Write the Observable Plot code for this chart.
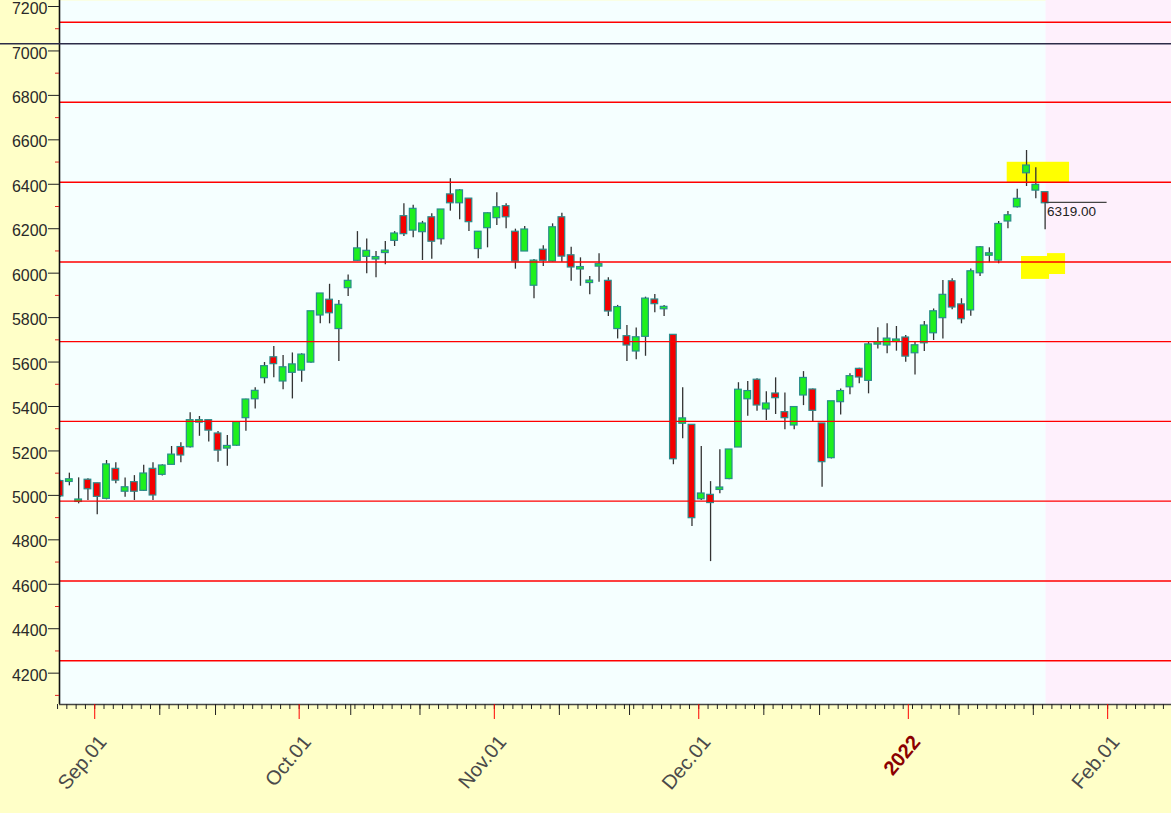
<!DOCTYPE html>
<html><head><meta charset="utf-8">
<script src="https://cdn.jsdelivr.net/npm/d3@7"></script>
<script src="https://cdn.jsdelivr.net/npm/@observablehq/plot@0.6"></script>
<style>
html,body{margin:0;padding:0;background:#FFFFC8;overflow:hidden;}
#chart svg{display:block}
</style></head><body><div id="chart"></div>
<script>
// ---- data (one candle per trading day, starting 2021-08-26) ----
const firstDay = "2021-08-26";
const opens = [5060,5065,4975,5066,5050,4989,5115,5021,5055,5025,5115,5097,5142,5213,5221,5332,5334,5274,5215,5228,5352,5437,5532,5617,5517,5556,5566,
5602,5814,5876,5753,5937,6060,6078,6066,6095,6150,6252,6196,6189,6247,6157,6350,6319,6331,6113,6207,
6252,6297,6182,6102,5948,6101,6057,6247,6076,6021,5960,6034,5961,5753,5712,5652,5718,5877,5842,5718,5327,5313,
4987,4998,5029,5078,5220,5437,5516,5391,5454,5370,5319,5454,5472,5319,5172,5424,5491,5565,5520,5683,5679,5695,5706,
5644,5689,5734,5802,5959,5855,5837,6004,6083,6061,6237,6301,6454,6376,6360];
const highs = [5068,5100,5079,5075,5055,5157,5147,5078,5089,5136,5147,5138,5220,5237,5372,5355,5337,5287,5269,5330,5433,5484,5598,5670,5629,5641,5637,
5826,5906,5950,5877,5992,6187,6154,6097,6142,6187,6312,6306,6233,6267,6287,6425,6375,6335,6187,6271,
6362,6312,6198,6210,6062,6123,6222,6270,6117,6069,5985,6087,5979,5855,5765,5753,5892,5904,5855,5720,5484,5316,
5220,5062,5205,5205,5507,5512,5525,5466,5529,5461,5400,5557,5479,5320,5421,5479,5547,5572,5692,5754,5772,5760,5719,
5692,5782,5839,5967,5975,5885,6019,6120,6114,6232,6277,6378,6552,6474,6362];
const lows = [4990,5043,4962,4977,4913,4980,5052,4992,4977,5018,4977,5087,5138,5147,5213,5266,5240,5149,5131,5221,5289,5389,5502,5529,5475,5434,5509,
5595,5772,5772,5602,5895,6053,5997,5979,6038,6120,6165,6159,6057,6063,6127,6279,6240,6187,6065,6114,
6214,6200,6018,6098,5885,6030,6050,6049,5964,5941,5903,5959,5805,5704,5602,5610,5626,5822,5805,5138,5255,4860,
4977,4702,5007,5070,5217,5356,5379,5337,5364,5295,5295,5404,5329,5037,5164,5362,5453,5502,5457,5659,5637,5649,5599,
5542,5647,5697,5704,5835,5772,5806,5985,6047,6042,6200,6293,6390,6335,6195];
const closes = [5000,5068,4977,5032,4998,5135,5071,5032,5021,5094,5004,5130,5179,5184,5334,5334,5296,5206,5218,5325,5427,5466,5577,5595,5572,5585,5629,
5824,5904,5824,5853,5961,6107,6096,6068,6097,6174,6180,6285,6219,6146,6282,6319,6368,6234,6182,6265,
6292,6256,6057,6192,6052,6060,6202,6079,6030,6023,5962,6036,5832,5843,5679,5707,5881,5865,5844,5167,5342,4902,
5004,4970,5031,5202,5471,5465,5409,5409,5442,5352,5393,5524,5385,5154,5419,5465,5532,5535,5675,5685,5701,5697,5629,
5671,5760,5824,5898,5850,5797,6004,6112,6085,6217,6256,6330,6480,6393,6319];

// horizontal level lines and marker line
const levels = [4256, 4615, 4974, 5333, 5692, 6050, 6409, 6769, 7129];
const markerLevel = 7030;

// axis ticks
const yMajor = [4200,4400,4600,4800,5000,5200,5400,5600,5800,6000,6200,6400,6600,6800,7000,7200];
const yMinor = [4100,4300,4500,4700,4900,5100,5300,5500,5700,5900,6100,6300,6500,6700,6900,7100];
const monthDates = ["2021-09-01","2021-10-01","2021-11-01","2021-12-01","2022-01-01","2022-02-01"];
const monthLabels = ["Sep.01","Oct.01","Nov.01","Dec.01","2022","Feb.01"];
const midDates = ["2021-09-10","2021-09-20","2021-10-10","2021-10-20","2021-11-10","2021-11-20","2021-12-10","2021-12-20","2022-01-10","2022-01-20"];

// highlighted zones (trading-day index units / price)
const zoneX1 = [101.92, 103.46, 106.26];
const zoneX2 = [108.63, 106.48, 108.2];
const zoneY1 = [6405, 5972, 5994];
const zoneY2 = [6499, 6075, 6088];

// ---- build ----
const parse = d3.utcParse("%Y-%m-%d");
const tradingDays = d3.utcDays(parse(firstDay), parse("2022-03-01")).filter(d => d.getUTCDay() % 6 !== 0);
function dayPos(s) {
  const t = parse(s);
  const k = tradingDays.findIndex(d => d >= t);
  return +tradingDays[k] === +t ? k - 0.27 : k - 0.72;
}
const candles = opens.map((o, i) => ({i, o, h: highs[i], l: lows[i], c: closes[i]}));
const last = candles[candles.length - 1];
const xDomain = [-0.06, 119.6];
const yDomain = [4059, 7227];
const zones = zoneX1.map((x1, k) => ({x1, x2: zoneX2[k], y1: zoneY1[k], y2: zoneY2[k]}));
const months = monthDates.map((d, k) => ({x: dayPos(d), label: monthLabels[k], year: !monthLabels[k].includes(".")}));
const mids = midDates.map(dayPos);
const daily = d3.range(0, 120).map(k => k - 0.27);

const GREEN = "#1EF01E", RED = "#F50000", EDGE = "#2A8C8C";

const plot = Plot.plot({
  width: 1171, height: 813,
  marginLeft: 59, marginRight: 0, marginTop: 0, marginBottom: 109,
  style: {background: "transparent", fontFamily: "'Liberation Sans', Arial, sans-serif", overflow: "visible"},
  x: {domain: xDomain, axis: null, label: null},
  y: {domain: yDomain, axis: null, label: null},
  marks: [
    Plot.frame({fill: "#F5FFFF", stroke: null}),
    Plot.rect([last], {x1: d => d.i + 0.1, x2: xDomain[1], y1: yDomain[0], y2: yDomain[1], fill: "#FEF0FC"}),
    Plot.rect(zones, {x1: "x1", x2: "x2", y1: "y1", y2: "y2", fill: "#FFFF00"}),
    Plot.ruleX(candles, {x: "i", y1: "l", y2: "h", stroke: "#333", strokeWidth: 1.3, clip: true}),
    Plot.rect(candles, {x1: d => d.i - 0.36, x2: d => d.i + 0.36,
      y1: d => Math.min(d.o, d.c), y2: d => Math.max(d.o, d.c),
      fill: d => d.c >= d.o ? GREEN : RED, stroke: EDGE, strokeWidth: 1.2,
      insetTop: -1, insetBottom: -1, clip: true}),
    Plot.ruleY(levels, {stroke: "#FF0000", strokeWidth: 1.4}),
    Plot.ruleY([last], {y: "c", x1: "i", x2: d => d.i + 6.67, stroke: "#444", strokeWidth: 1.2}),
    Plot.text([last], {x: "i", y: "c", text: d => d.c.toFixed(2), textAnchor: "start", dx: 2, dy: 9,
      fontSize: 13.5, fill: "#222"}),
    // axes
    Plot.ruleX([xDomain[0]], {stroke: "#111", strokeWidth: 1.6}),
    Plot.ruleY([yDomain[0]], {stroke: "#444", strokeWidth: 1.4}),
    Plot.axisY(yMinor, {anchor: "left", tickSize: 4, tickFormat: () => "", color: "#E02020"}),
    Plot.axisY(yMajor, {anchor: "left", tickSize: 11, tickFormat: () => "", color: "#222"}),
    Plot.text(yMajor, {y: d => d, text: d => String(d), frameAnchor: "left", textAnchor: "end",
      dx: -12, dy: 2.5, fontSize: 16, fill: "#2A2A2A"}),
    Plot.axisX(daily, {anchor: "bottom", tickSize: 5, tickFormat: () => "", color: "#222"}),
    Plot.axisX(mids, {anchor: "bottom", tickSize: 11, tickFormat: () => "", color: "#222"}),
    Plot.axisX(months.map(d => d.x), {anchor: "bottom", tickSize: 15, tickFormat: () => "", color: "#FF0000"}),
    Plot.text(months.filter(d => !d.year), {x: "x", frameAnchor: "bottom", text: "label", rotate: -50,
      textAnchor: "end", lineAnchor: "bottom", dx: 13, dy: 38, fontSize: 20, fill: "#4A4A4A"}),
    Plot.text(months.filter(d => d.year), {x: "x", frameAnchor: "bottom", text: "label", rotate: -50,
      textAnchor: "end", lineAnchor: "bottom", dx: 13, dy: 38, fontSize: 20, fontWeight: "bold", fill: "#8B0000"})
  ]
});

// marker line spanning the full width (including the axis margin)
const ym = plot.scale("y").apply(markerLevel);
d3.select(plot).append("line")
  .attr("x1", 0).attr("x2", 1171).attr("y1", ym).attr("y2", ym)
  .attr("stroke", "#2C2C48").attr("stroke-width", 1.4);

document.getElementById("chart").appendChild(plot);
</script></body></html>
